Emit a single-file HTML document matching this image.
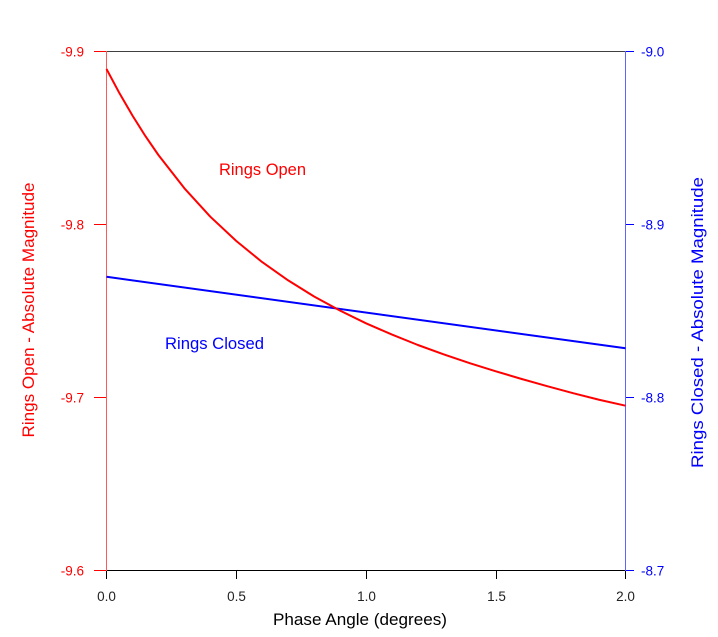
<!DOCTYPE html>
<html><head><meta charset="utf-8"><style>
html,body{margin:0;padding:0;background:#fff;}
svg{display:block;}
text{font-family:"Liberation Sans",Arial,sans-serif;}
</style></head><body>
<svg width="718" height="637" viewBox="0 0 718 637" xmlns="http://www.w3.org/2000/svg">
<rect width="718" height="637" fill="#fff"/>
<!-- top border -->
<line x1="106.5" y1="51.5" x2="625.5" y2="51.5" stroke="#404040" stroke-width="1"/>
<!-- bottom axis -->
<line x1="106" y1="570.5" x2="626" y2="570.5" stroke="#000" stroke-width="1"/>
<g stroke="#000" stroke-width="1">
<line x1="106.5" y1="570" x2="106.5" y2="579"/>
<line x1="236.5" y1="570" x2="236.5" y2="579"/>
<line x1="366.5" y1="570" x2="366.5" y2="579"/>
<line x1="496.5" y1="570" x2="496.5" y2="579"/>
<line x1="625.5" y1="570" x2="625.5" y2="579"/>
</g>
<g font-size="13.5" fill="#222" text-anchor="middle">
<text x="106.5" y="601">0.0</text>
<text x="236.5" y="601">0.5</text>
<text x="366.5" y="601">1.0</text>
<text x="496.5" y="601">1.5</text>
<text x="625.5" y="601">2.0</text>
</g>
<text x="273" y="625" font-size="17" fill="#000" textLength="174" lengthAdjust="spacingAndGlyphs">Phase Angle (degrees)</text>
<!-- left axis -->
<line x1="106.5" y1="51" x2="106.5" y2="571" stroke="#ff5a5a" stroke-width="1"/>
<g stroke="#ff0000" stroke-width="1">
<line x1="94" y1="51.5" x2="106" y2="51.5"/>
<line x1="94" y1="224.5" x2="106" y2="224.5"/>
<line x1="94" y1="397.5" x2="106" y2="397.5"/>
<line x1="94" y1="570.5" x2="106" y2="570.5"/>
</g>
<g font-size="13.5" fill="#ff0000" text-anchor="end">
<text x="84" y="56.5">-9.9</text>
<text x="84" y="229.5">-9.8</text>
<text x="84" y="402.5">-9.7</text>
<text x="84" y="575.5">-9.6</text>
</g>
<text transform="translate(34,310) rotate(-90)" font-size="17" fill="#ff0000" text-anchor="middle" textLength="255" lengthAdjust="spacingAndGlyphs">Rings Open - Absolute Magnitude</text>
<!-- right axis -->
<line x1="625.5" y1="51" x2="625.5" y2="571" stroke="#6262ff" stroke-width="1"/>
<g stroke="#0000ff" stroke-width="1">
<line x1="626" y1="51.5" x2="634" y2="51.5"/>
<line x1="626" y1="224.5" x2="634" y2="224.5"/>
<line x1="626" y1="397.5" x2="634" y2="397.5"/>
<line x1="626" y1="570.5" x2="634" y2="570.5"/>
</g>
<g font-size="13.5" fill="#0000ff" text-anchor="start">
<text x="641" y="56.5">-9.0</text>
<text x="641" y="229.5">-8.9</text>
<text x="641" y="402.5">-8.8</text>
<text x="641" y="575.5">-8.7</text>
</g>
<text transform="translate(703,322.5) rotate(-90)" font-size="17" fill="#0000ff" text-anchor="middle" textLength="291" lengthAdjust="spacingAndGlyphs">Rings Closed - Absolute Magnitude</text>
<!-- series -->
<polyline fill="none" stroke="#0000ff" stroke-width="2" points="106.5,276.8 625.5,348.3"/>
<polyline fill="none" stroke="#ff0000" stroke-width="2" stroke-linejoin="round" points="106.5,69 119.5,93.3 132.5,115.6 145.4,136.1 158.4,155 184.4,188.3 210.3,216.7 236.3,241 262.2,262.1 288.2,280.4 314.1,296.5 340.1,310.6 366,323.3 392,334.6 417.9,345 443.9,354.4 469.8,363.2 495.8,371.3 521.7,379 547.7,386.3 573.6,393.3 599.6,399.9 625.5,405.7"/>
<!-- labels -->
<text x="219" y="175" font-size="17" fill="#ff0000" textLength="87" lengthAdjust="spacingAndGlyphs">Rings Open</text>
<text x="165" y="349" font-size="17" fill="#0000ff" textLength="99" lengthAdjust="spacingAndGlyphs">Rings Closed</text>
</svg>
</body></html>
